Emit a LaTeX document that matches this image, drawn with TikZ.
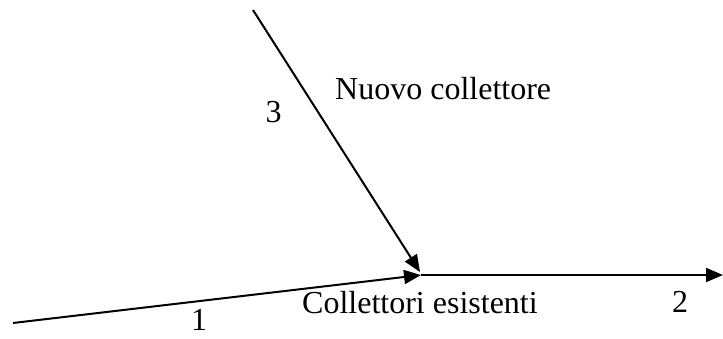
\documentclass[tikz,border=0pt]{standalone}
\usepackage{fontspec}
\setmainfont{Liberation Serif}
\usetikzlibrary{arrows.meta}
\begin{document}
\begin{tikzpicture}[x=1pt,y=-1pt,
  flow/.style={line width=2pt,-{Triangle[length=17pt,width=14pt]}},
  lbl/.style={inner sep=0pt,font=\fontsize{32}{38}\selectfont}]
\useasboundingbox (0,0) rectangle (723,338);
\coordinate (s1) at (13,323);
\coordinate (e1) at (421,275);
\coordinate (s3) at (253,10);
\coordinate (e3) at (420,272);
\coordinate (s2) at (421,275);
\coordinate (e2) at (723,275);
\draw[flow] (s1) -- (e1);
\draw[flow] (s3) -- (e3);
\draw[flow] (s2) -- (e2);
\node[lbl,anchor=base west] (nuovo) at (335,99) {Nuovo collettore};
\node[lbl,anchor=base west] (esist) at (302,313) {Collettori esistenti};
\node[lbl,anchor=base] (n3) at (273.5,122) {3};
\node[lbl,anchor=base] (n2) at (680,312) {2};
\node[lbl,anchor=base] (n1) at (199,330) {1};
\end{tikzpicture}
\end{document}
